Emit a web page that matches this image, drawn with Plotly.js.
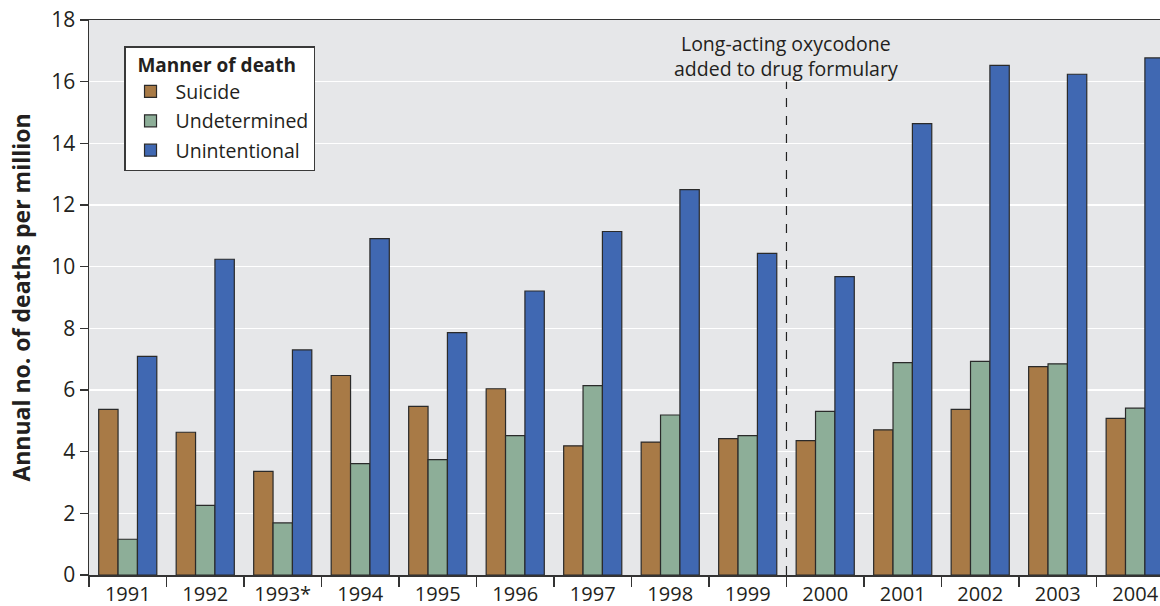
<!DOCTYPE html>
<html>
<head>
<meta charset="utf-8">
<script src="https://cdn.plot.ly/plotly-3.0.1.min.js"></script>
<style>html,body{margin:0;padding:0;background:#fff;}#chart{width:1160px;height:606px;}</style>
</head>
<body>
<div id="chart"></div>
<script>
const years = ["1991","1992","1993*","1994","1995","1996","1997","1998","1999","2000","2001","2002","2003","2004"];
const suicide = [5.37,4.63,3.36,6.47,5.47,6.04,4.19,4.31,4.42,4.36,4.71,5.37,6.76,5.08];
const undetermined = [1.16,2.26,1.69,3.61,3.74,4.52,6.14,5.19,4.52,5.31,6.89,6.93,6.85,5.41];
const unintentional = [7.09,10.24,7.30,10.91,7.86,9.21,11.14,12.50,10.43,9.68,14.64,16.53,16.24,16.77];
const seriesNames = ["Suicide","Undetermined","Unintentional"];
const legendTitle = "Manner of death";
const yTitle = "Annual no. of deaths per million";
const noteText = "Long-acting oxycodone<br>added to drug formulary";
const noteYear = 8.5; // boundary between 1999 and 2000
const noteTop = 16;

const colors = ["#A87A46","#8DAE98","#4068B2"];
const font = "Open Sans, Noto Sans, sans-serif";
const txt = "#231F20";

const mk = (name, y, c, g) => ({
  type: "bar", name: name, x: years, y: y, legendgroup: g,
  marker: {color: c, line: {color: "#2a2a2a", width: 1.2}},
  hoverinfo: "x+y+name"
});

const data = [
  mk(seriesNames[0], suicide, colors[0], "a"),
  mk(seriesNames[1], undetermined, colors[1], "b"),
  mk(seriesNames[2], unintentional, colors[2], "c")
];

const layout = {
  width: 1160, height: 606,
  margin: {l: 89, r: 0, t: 20, b: 31, pad: 0},
  paper_bgcolor: "#ffffff",
  plot_bgcolor: "#E6E7E9",
  font: {family: font, color: txt, size: 20},
  barmode: "group",
  bargap: 0.25,
  bargroupgap: 0,
  showlegend: true,
  legend: {
    x: 0.0327, y: 0.953, xanchor: "left", yanchor: "top",
    bgcolor: "#ffffff", bordercolor: "#3a3a3a", borderwidth: 1.5,
    title: {text: "&nbsp;&nbsp;<b>" + legendTitle + "</b>", font: {size: 19, color: txt, family: font}},
    font: {size: 19.5, color: txt, family: font},
    traceorder: "grouped", tracegroupgap: 1,
    itemwidth: 40,
    itemclick: false
  },
  xaxis: {
    type: "category",
    range: [-0.5, 13.32],
    tickson: "boundaries",
    ticks: "outside", ticklen: 10, tickwidth: 1.2, tickcolor: "#333",
    showline: true, linecolor: "#333", linewidth: 1.5, mirror: true,
    showgrid: false, zeroline: false,
    tickfont: {size: 20, color: txt, family: font},
    fixedrange: true
  },
  yaxis: {
    range: [0, 18], dtick: 2, tick0: 0,
    ticks: "outside", ticklen: 8, tickwidth: 1.2, tickcolor: "#333",
    showline: true, linecolor: "#333", linewidth: 1.5,
    showgrid: true, gridcolor: "#ffffff", gridwidth: 1.5,
    zeroline: false,
    tickfont: {size: 21, color: txt, family: font},
    title: {text: "<b>" + yTitle + "</b>", font: {size: 23, color: txt, family: font}, standoff: 14},
    fixedrange: true
  },
  shapes: [{
    type: "line", xref: "x", yref: "y",
    x0: noteYear, x1: noteYear, y0: 0, y1: noteTop,
    line: {color: "#222", width: 1.2, dash: "dash"},
    layer: "above"
  }],
  annotations: [{
    xref: "x", yref: "y", x: noteYear, y: 16.82,
    text: noteText, showarrow: false,
    xanchor: "center", yanchor: "middle", align: "center",
    font: {size: 19.5, color: txt, family: font}
  }]
};

Plotly.newPlot("chart", data, layout, {displayModeBar: false, staticPlot: true});
</script>
</body>
</html>
